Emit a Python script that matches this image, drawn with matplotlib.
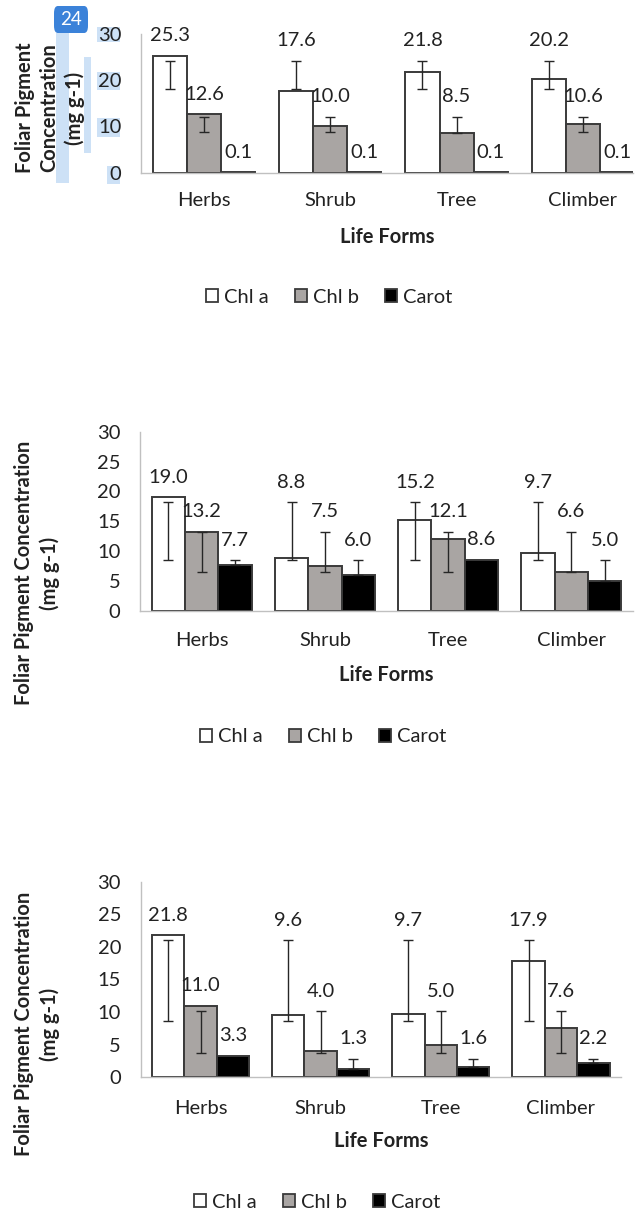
import matplotlib
matplotlib.use("Agg")
import matplotlib.pyplot as plt
import numpy as np
from matplotlib.patches import Patch, Rectangle, FancyBboxPatch

plt.rcParams['font.family'] = ['Lato', 'DejaVu Sans']

# ---- data ----
life_forms = ["Herbs", "Shrub", "Tree", "Climber"]
series = ["Chl a", "Chl b", "Carot"]

# panel 1
p1_chla = [25.3, 17.6, 21.8, 20.2]
p1_chlb = [12.6, 10.0, 8.5, 10.6]
p1_carot = [0.1, 0.1, 0.1, 0.1]
p1_chla_err = [(18.1, 24.2), (18.0, 24.2), (18.0, 24.2), (18.0, 24.2)]
p1_chlb_err = [(8.7, 12.1), (8.7, 12.1), (8.6, 12.1), (8.7, 12.1)]
p1_carot_err = [None, None, None, None]

# panel 2
p2_chla = [19.0, 8.8, 15.2, 9.7]
p2_chlb = [13.2, 7.5, 12.1, 6.6]
p2_carot = [7.7, 6.0, 8.6, 5.0]
p2_chla_err = [(8.5, 18.2), (8.5, 18.2), (8.5, 18.2), (8.5, 18.2)]
p2_chlb_err = [(6.6, 13.2), (6.6, 13.3), (6.6, 13.3), (6.6, 13.3)]
p2_carot_err = [(7.7, 8.5), (6.0, 8.5), None, (5.0, 8.5)]

# panel 3
p3_chla = [21.8, 9.6, 9.7, 17.9]
p3_chlb = [11.0, 4.0, 5.0, 7.6]
p3_carot = [3.3, 1.3, 1.6, 2.2]
p3_chla_err = [(8.7, 21.0), (8.7, 21.0), (8.7, 21.0), (8.7, 21.0)]
p3_chlb_err = [(3.8, 10.1), (3.8, 10.1), (3.8, 10.1), (3.8, 10.1)]
p3_carot_err = [None, (1.3, 2.8), (1.6, 2.8), (2.2, 2.8)]

# ---- styling / layout ----
W, H = 638, 1213
bar_colors = ["white", "#a9a5a3", "black"]
edge = "#3a3a3a"
txt = "#222222"
fs = 14.5
width = 0.27

fig = plt.figure(figsize=(W / 100, H / 100), dpi=100)


def fx(px):
    return px / W


def fy(py):
    return 1 - py / H


def make_panel(left, right, top, bottom, xmax, yticks, values, errs,
               ylab, ylab_pos, tick_y, xl_y, leg_y, leg_x):
    ax = fig.add_axes([fx(left), fy(bottom), fx(right - left), (bottom - top) / H])
    x = np.arange(len(life_forms))
    for i, (vals, err) in enumerate(zip(values, errs)):
        pos = x + (i - 1) * width
        ax.bar(pos, vals, width, color=bar_colors[i], edgecolor=edge,
               linewidth=1.4, zorder=2)
        lo = np.array([e[0] if e else np.nan for e in err])
        hi = np.array([e[1] if e else np.nan for e in err])
        ok = ~np.isnan(lo)
        if ok.any():
            ax.errorbar(pos[ok], (lo[ok] + hi[ok]) / 2, yerr=(hi[ok] - lo[ok]) / 2,
                        fmt='none', ecolor="#262626", elinewidth=1,
                        capsize=3.3, capthick=1, zorder=3)
        for j, v in enumerate(vals):
            top_v = max(v, hi[j]) if ok[j] else v
            ax.annotate(f"{v:.1f}", (pos[j], top_v), xytext=(0, 14.5),
                        textcoords='offset points', ha='center', va='center',
                        fontsize=fs, color=txt)
    ax.set_xlim(-0.5, xmax)
    ax.set_ylim(0, 30)
    ax.set_yticks(yticks)
    ax.set_xticks([])
    for s in ['top', 'right']:
        ax.spines[s].set_visible(False)
    for s in ['left', 'bottom']:
        ax.spines[s].set_color('#c0c0c0')
        ax.spines[s].set_linewidth(1.0)
    ax.tick_params(axis='y', length=0, labelsize=fs, labelcolor=txt, pad=14)
    ax.spines['bottom'].set_zorder(4)

    # category labels
    for j, name in enumerate(life_forms):
        xpix = ax.transData.transform((j, 0))[0]
        fig.text(xpix / W, fy(tick_y), name, ha='center', va='center',
                 fontsize=fs, color=txt)
    fig.text(fx((left + right) / 2), fy(xl_y), "Life Forms", ha='center',
             va='center', fontsize=fs, fontweight='bold', color=txt)
    fig.text(fx(ylab_pos[0]), fy(ylab_pos[1]), ylab, rotation=90, ha='center',
             va='center', multialignment='center', fontsize=fs,
             fontweight='bold', color=txt, linespacing=1.3)

    handles = [Patch(facecolor=c, edgecolor=edge, linewidth=1.3) for c in bar_colors]
    fig.legend(handles, series, loc='center', bbox_to_anchor=(fx(leg_x), fy(leg_y)),
               ncol=3, frameon=False, fontsize=fs, handlelength=0.6,
               handleheight=0.6, handletextpad=0.3, columnspacing=1.3,
               labelcolor=txt)
    return ax


# selection highlights over panel 1 (drawn first, behind text)
hl = "#cde1f6"
for (x0, x1, y0, y1) in [(56, 69, 33, 183), (84, 91, 57, 153), (97, 120, 27, 42),
                         (97, 120, 72, 90), (97, 120, 118, 137), (107, 120, 166, 184)]:
    fig.add_artist(Rectangle((fx(x0), fy(y1)), fx(x1 - x0), (y1 - y0) / H,
                             transform=fig.transFigure, facecolor=hl,
                             edgecolor='none', zorder=0))
fig.add_artist(FancyBboxPatch((fx(54), fy(33)), fx(34), 27 / H,
                              boxstyle="round,pad=0,rounding_size=0.006",
                              transform=fig.transFigure, facecolor="#3b82d9",
                              edgecolor='none', zorder=5))
fig.text(fx(71), fy(19.5), "24", ha='center', va='center', fontsize=13.5,
         color='white', zorder=6)

make_panel(140.8, 633, 34, 172.7, 3.397, [0, 10, 20, 30],
           [p1_chla, p1_chlb, p1_carot], [p1_chla_err, p1_chlb_err, p1_carot_err],
           "Foliar Pigment\nConcentration\n(mg g-1)", (50, 108),
           200, 237, 297, 329)
make_panel(140, 633, 431.7, 611, 3.5, [0, 5, 10, 15, 20, 25, 30],
           [p2_chla, p2_chlb, p2_carot], [p2_chla_err, p2_chlb_err, p2_carot_err],
           "Foliar Pigment Concentration\n(mg g-1)", (37, 573),
           641, 675, 737, 323)
make_panel(140.5, 621, 881.7, 1077.3, 3.5, [0, 5, 10, 15, 20, 25, 30],
           [p3_chla, p3_chlb, p3_carot], [p3_chla_err, p3_chlb_err, p3_carot_err],
           "Foliar Pigment Concentration\n(mg g-1)", (37, 1024),
           1108, 1141, 1202, 317)

fig.savefig("out.png", dpi=100, facecolor='white')
